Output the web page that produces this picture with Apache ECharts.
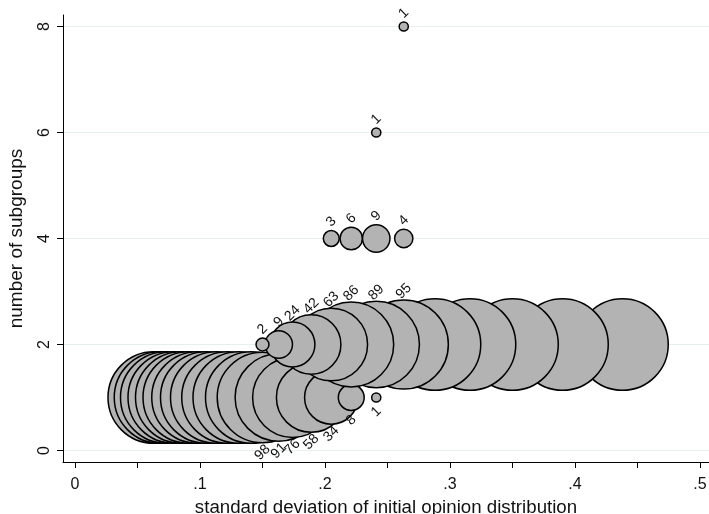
<!DOCTYPE html>
<html>
<head>
<meta charset="utf-8">
<script src="https://cdn.jsdelivr.net/npm/echarts@6/dist/echarts.min.js"></script>
<style>html,body{margin:0;padding:0;background:#fff}#c{width:709px;height:514px}</style>
</head>
<body>
<div id="c"></div>
<script>
// standard deviation of initial opinion distribution (x positions of the bubbles)
const sdValues = [0.063, 0.068, 0.073, 0.079, 0.085, 0.091, 0.098, 0.105, 0.113, 0.122, 0.131, 0.141,
                  0.150, 0.163, 0.174, 0.189, 0.205, 0.221, 0.241, 0.263, 0.288, 0.316, 0.350, 0.390, 0.438];
// frequency (out of 100 runs) of each number of subgroups, per sd value
const countsOne   = [100,100,100,100,100,100,100,100,100,100,100,100, 98,91,76,58,34,8,1,0,0,0,0,0,0];
const countsTwo   = [0,0,0,0,0,0,0,0,0,0,0,0, 2,9,24,42,63,86,89,95,100,100,100,100,100];
const countsFour  = [0,0,0,0,0,0,0,0,0,0,0,0, 0,0,0,0,3,6,9,4,0,0,0,0,0];
const countsSix   = [0,0,0,0,0,0,0,0,0,0,0,0, 0,0,0,0,0,0,1,0,0,0,0,0,0];
const countsEight = [0,0,0,0,0,0,0,0,0,0,0,0, 0,0,0,0,0,0,0,1,0,0,0,0,0];
const xTicks = [0, 0.05, 0.1, 0.15, 0.2, 0.25, 0.3, 0.35, 0.4, 0.45, 0.5];
const xTickLabels = [0, 0.1, 0.2, 0.3, 0.4, 0.5];
const yTicks = [0, 2, 4, 6, 8];

function rows(counts, level, descending) {
  const out = [];
  sdValues.forEach((sd, i) => { if (counts[i] > 0) out.push([sd, level, counts[i]]); });
  if (descending) out.reverse();
  return out;
}

const FONT = '"Liberation Sans", Arial, sans-serif';
const itemStyle = { color: '#b3b3b3', borderColor: '#000', borderWidth: 1.5, opacity: 1 };
function bubbleSeries(data, below) {
  return {
    type: 'scatter',
    data: data,
    symbol: 'circle',
    symbolSize: d => 91.5 * Math.sqrt(d[2] / 100),
    itemStyle: itemStyle,
    emphasis: { disabled: true },
    label: {
      show: true,
      formatter: p => (p.data[2] < 100 ? String(p.data[2]) : ''),
      position: below ? 'bottom' : 'top',
      distance: below ? 9 : 8,
      rotate: 45,
      align: 'center',
      verticalAlign: 'middle',
      color: '#111',
      opacity: 1,
      fontSize: 14,
      fontFamily: FONT
    }
  };
}

const fmt = v => (v === 0 ? '0' : String(+v.toFixed(2)).replace(/^0\./, '.'));

const chart = echarts.init(document.getElementById('c'));
chart.setOption({
  animation: false,
  backgroundColor: '#fff',
  grid: { left: 63, right: 0, top: 15, bottom: 52, containLabel: false, outerBoundsMode: 'none' },
  xAxis: {
    type: 'value', min: -0.0096, max: 0.5072,
    name: 'standard deviation of initial opinion distribution',
    nameLocation: 'middle', nameGap: 33,
    nameTextStyle: { fontSize: 18.7, color: '#111', fontFamily: FONT },
    axisLine: { onZero: false, lineStyle: { color: '#000', width: 1 } },
    axisTick: { show: true, length: 6, customValues: xTicks, lineStyle: { color: '#000' } },
    axisLabel: { customValues: xTickLabels, formatter: fmt, fontSize: 16, color: '#111', margin: 15, fontFamily: FONT },
    splitLine: { show: false }
  },
  yAxis: {
    type: 'value', min: -0.217, max: 8.217,
    name: 'number of subgroups',
    nameLocation: 'middle', nameGap: 37,
    nameTextStyle: { fontSize: 19, color: '#111', fontFamily: FONT },
    axisLine: { show: true, onZero: false, lineStyle: { color: '#000', width: 1 } },
    axisTick: { show: true, length: 6, customValues: yTicks, lineStyle: { color: '#000' } },
    axisLabel: { customValues: yTicks, rotate: 90, fontSize: 16, color: '#111', margin: 10, fontFamily: FONT },
    splitLine: { show: true, lineStyle: { color: '#e7eeef', width: 1.2 } }
  },
  series: [
    bubbleSeries(rows(countsOne, 1, false), true),
    bubbleSeries(rows(countsTwo, 2, true), false),
    bubbleSeries(rows(countsFour, 4, false), false),
    bubbleSeries(rows(countsSix, 6, false), false),
    bubbleSeries(rows(countsEight, 8, false), false)
  ]
});
</script>
</body>
</html>
